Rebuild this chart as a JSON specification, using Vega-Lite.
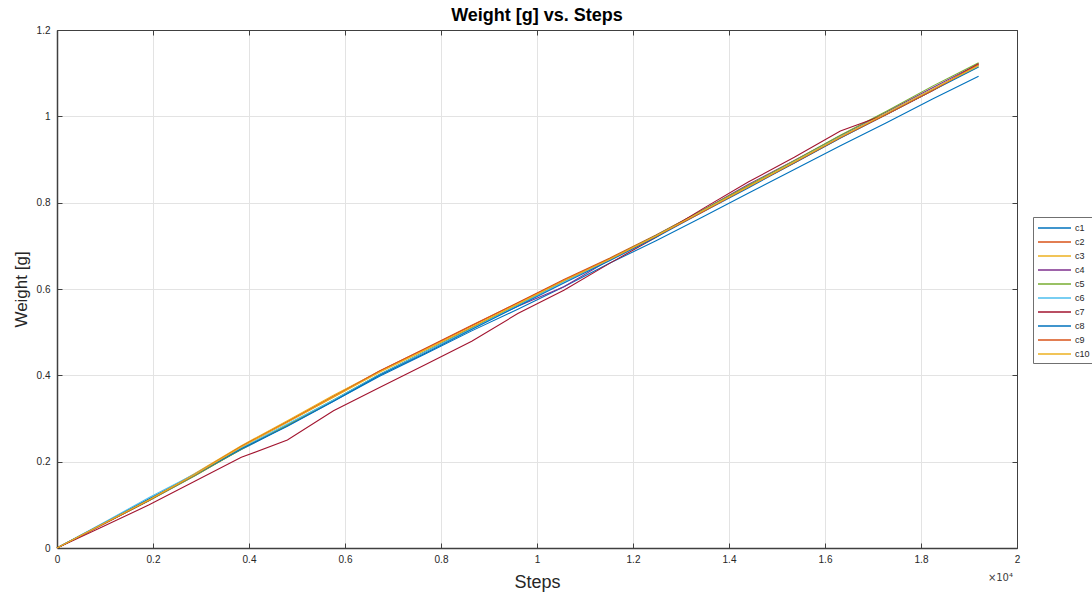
{
  "$schema": "https://vega.github.io/schema/vega-lite/v6.json",
  "width": 960,
  "height": 518,
  "autosize": {"type": "none"},
  "padding": {"left": 57, "top": 30, "right": 75, "bottom": 49},
  "background": "white",
  "config": {
    "font": "Liberation Sans",
    "view": {"stroke": "#404040", "strokeWidth": 1}
  },
  "title": {"text": "Weight [g] vs. Steps", "fontSize": 18, "fontWeight": "bold", "color": "#000000", "offset": 0, "anchor": "middle"},
  "datasets": {
    "w": [
      {"step": 0, "c1": 0, "c2": 0, "c3": 0, "c4": 0, "c5": 0, "c6": 0, "c7": 0, "c8": 0, "c9": 0, "c10": 0},
      {"step": 960, "c1": 0.057, "c2": 0.055, "c3": 0.056, "c4": 0.055, "c5": 0.055, "c6": 0.058, "c7": 0.05, "c8": 0.056, "c9": 0.055, "c10": 0.056},
      {"step": 1920, "c1": 0.114, "c2": 0.11, "c3": 0.112, "c4": 0.11, "c5": 0.11, "c6": 0.117, "c7": 0.1, "c8": 0.113, "c9": 0.111, "c10": 0.112},
      {"step": 2880, "c1": 0.17, "c2": 0.172, "c3": 0.173, "c4": 0.168, "c5": 0.168, "c6": 0.172, "c7": 0.155, "c8": 0.17, "c9": 0.171, "c10": 0.171},
      {"step": 3840, "c1": 0.228, "c2": 0.236, "c3": 0.237, "c4": 0.23, "c5": 0.229, "c6": 0.232, "c7": 0.21, "c8": 0.23, "c9": 0.235, "c10": 0.234},
      {"step": 4800, "c1": 0.283, "c2": 0.293, "c3": 0.295, "c4": 0.285, "c5": 0.285, "c6": 0.287, "c7": 0.25, "c8": 0.282, "c9": 0.292, "c10": 0.291},
      {"step": 5760, "c1": 0.34, "c2": 0.352, "c3": 0.354, "c4": 0.342, "c5": 0.343, "c6": 0.343, "c7": 0.318, "c8": 0.34, "c9": 0.35, "c10": 0.349},
      {"step": 6720, "c1": 0.398, "c2": 0.41, "c3": 0.409, "c4": 0.402, "c5": 0.402, "c6": 0.402, "c7": 0.372, "c8": 0.4, "c9": 0.41, "c10": 0.407},
      {"step": 7680, "c1": 0.45, "c2": 0.462, "c3": 0.46, "c4": 0.455, "c5": 0.456, "c6": 0.455, "c7": 0.425, "c8": 0.452, "c9": 0.463, "c10": 0.459},
      {"step": 8640, "c1": 0.503, "c2": 0.515, "c3": 0.512, "c4": 0.51, "c5": 0.509, "c6": 0.508, "c7": 0.479, "c8": 0.506, "c9": 0.516, "c10": 0.512},
      {"step": 9600, "c1": 0.553, "c2": 0.568, "c3": 0.565, "c4": 0.56, "c5": 0.563, "c6": 0.562, "c7": 0.543, "c8": 0.56, "c9": 0.568, "c10": 0.565},
      {"step": 10560, "c1": 0.605, "c2": 0.622, "c3": 0.618, "c4": 0.605, "c5": 0.618, "c6": 0.617, "c7": 0.597, "c8": 0.614, "c9": 0.62, "c10": 0.619},
      {"step": 11520, "c1": 0.66, "c2": 0.672, "c3": 0.668, "c4": 0.668, "c5": 0.67, "c6": 0.668, "c7": 0.66, "c8": 0.666, "c9": 0.67, "c10": 0.669},
      {"step": 12480, "c1": 0.712, "c2": 0.725, "c3": 0.722, "c4": 0.724, "c5": 0.724, "c6": 0.722, "c7": 0.72, "c8": 0.72, "c9": 0.722, "c10": 0.723},
      {"step": 13440, "c1": 0.766, "c2": 0.782, "c3": 0.779, "c4": 0.782, "c5": 0.782, "c6": 0.78, "c7": 0.785, "c8": 0.778, "c9": 0.778, "c10": 0.78},
      {"step": 14400, "c1": 0.822, "c2": 0.838, "c3": 0.836, "c4": 0.842, "c5": 0.84, "c6": 0.836, "c7": 0.848, "c8": 0.834, "c9": 0.836, "c10": 0.837},
      {"step": 15360, "c1": 0.877, "c2": 0.892, "c3": 0.893, "c4": 0.898, "c5": 0.897, "c6": 0.894, "c7": 0.905, "c8": 0.892, "c9": 0.893, "c10": 0.894},
      {"step": 16320, "c1": 0.932, "c2": 0.95, "c3": 0.952, "c4": 0.955, "c5": 0.956, "c6": 0.953, "c7": 0.966, "c8": 0.95, "c9": 0.951, "c10": 0.952},
      {"step": 17280, "c1": 0.985, "c2": 1.005, "c3": 1.006, "c4": 1.01, "c5": 1.012, "c6": 1.007, "c7": 1.005, "c8": 1.004, "c9": 1.004, "c10": 1.007},
      {"step": 18240, "c1": 1.04, "c2": 1.06, "c3": 1.062, "c4": 1.066, "c5": 1.07, "c6": 1.063, "c7": 1.06, "c8": 1.06, "c9": 1.06, "c10": 1.063},
      {"step": 19200, "c1": 1.093, "c2": 1.118, "c3": 1.115, "c4": 1.122, "c5": 1.124, "c6": 1.117, "c7": 1.122, "c8": 1.114, "c9": 1.12, "c10": 1.118}
    ],
    "note": [{"label": "×10⁴"}]
  },
  "layer": [
    {
      "data": {"name": "w"},
      "transform": [{"fold": ["c1", "c2", "c3", "c4", "c5", "c6", "c7", "c8", "c9", "c10"], "as": ["series", "weight"]}],
      "mark": {"type": "line", "strokeWidth": 1.1},
      "encoding": {
        "x": {
          "field": "step", "type": "quantitative",
          "scale": {"domain": [0, 20000], "nice": false, "zero": false},
          "axis": {
            "values": [0, 2000, 4000, 6000, 8000, 10000, 12000, 14000, 16000, 18000, 20000],
            "labelExpr": "format(datum.value/10000, '~g')",
            "title": "Steps", "titleFontSize": 18, "titleFontWeight": "normal", "titleColor": "#262626", "titlePadding": 9,
            "grid": true, "gridColor": "#e3e3e3", "gridWidth": 1,
            "tickSize": -5, "tickColor": "#404040", "tickWidth": 1,
            "domainColor": "#404040", "domainWidth": 1.5,
            "labelFontSize": 10, "labelColor": "#262626", "labelPadding": 11, "labelFlush": false, "labelOverlap": false
          }
        },
        "y": {
          "field": "weight", "type": "quantitative",
          "scale": {"domain": [0, 1.2], "nice": false},
          "axis": {
            "values": [0, 0.2, 0.4, 0.6, 0.8, 1, 1.2],
            "labelExpr": "format(datum.value, '~g')",
            "title": "Weight [g]", "titleFontSize": 17, "titleFontWeight": "normal", "titleColor": "#262626", "titlePadding": 6,
            "grid": true, "gridColor": "#e3e3e3", "gridWidth": 1,
            "tickSize": -5, "tickColor": "#404040", "tickWidth": 1,
            "domainColor": "#404040", "domainWidth": 1.5,
            "labelFontSize": 10, "labelColor": "#262626", "labelPadding": 12, "labelFlush": false, "labelOverlap": false
          }
        },
        "color": {
          "field": "series", "type": "nominal",
          "scale": {
            "domain": ["c1", "c2", "c3", "c4", "c5", "c6", "c7", "c8", "c9", "c10"],
            "range": ["#0072BD", "#D95319", "#EDB120", "#7E2F8E", "#77AC30", "#4DBEEE", "#A2142F", "#0072BD", "#D95319", "#EDB120"]
          },
          "legend": {
            "orient": "none", "legendX": 976, "legendY": 187,
            "title": null,
            "strokeColor": "#707070", "fillColor": "white", "padding": 4,
            "symbolType": "M-1,0H4.5", "symbolSize": 144, "symbolStrokeWidth": 1.3,
            "labelFontSize": 9, "labelColor": "#262626", "labelOffset": 24,
            "rowPadding": 2
          }
        }
      }
    },
    {
      "data": {"name": "note"},
      "mark": {"type": "text", "align": "right", "baseline": "middle", "dx": -4, "dy": 30, "fontSize": 10, "font": "DejaVu Sans", "color": "#404040", "clip": false},
      "encoding": {
        "x": {"datum": 20000, "type": "quantitative", "scale": {"domain": [0, 20000], "nice": false, "zero": false},
          "axis": {"orient": "top", "values": [0, 2000, 4000, 6000, 8000, 10000, 12000, 14000, 16000, 18000, 20000], "labels": false, "title": null, "grid": false, "tickSize": -5, "tickColor": "#404040", "domainColor": "#404040", "domainWidth": 1}},
        "y": {"datum": 0, "type": "quantitative", "scale": {"domain": [0, 1.2], "nice": false},
          "axis": {"orient": "right", "values": [0, 0.2, 0.4, 0.6, 0.8, 1, 1.2], "labels": false, "title": null, "grid": false, "tickSize": -5, "tickColor": "#404040", "domainColor": "#404040", "domainWidth": 1}},
        "text": {"field": "label"}
      }
    }
  ],
  "resolve": {"axis": {"x": "independent", "y": "independent"}}
}
